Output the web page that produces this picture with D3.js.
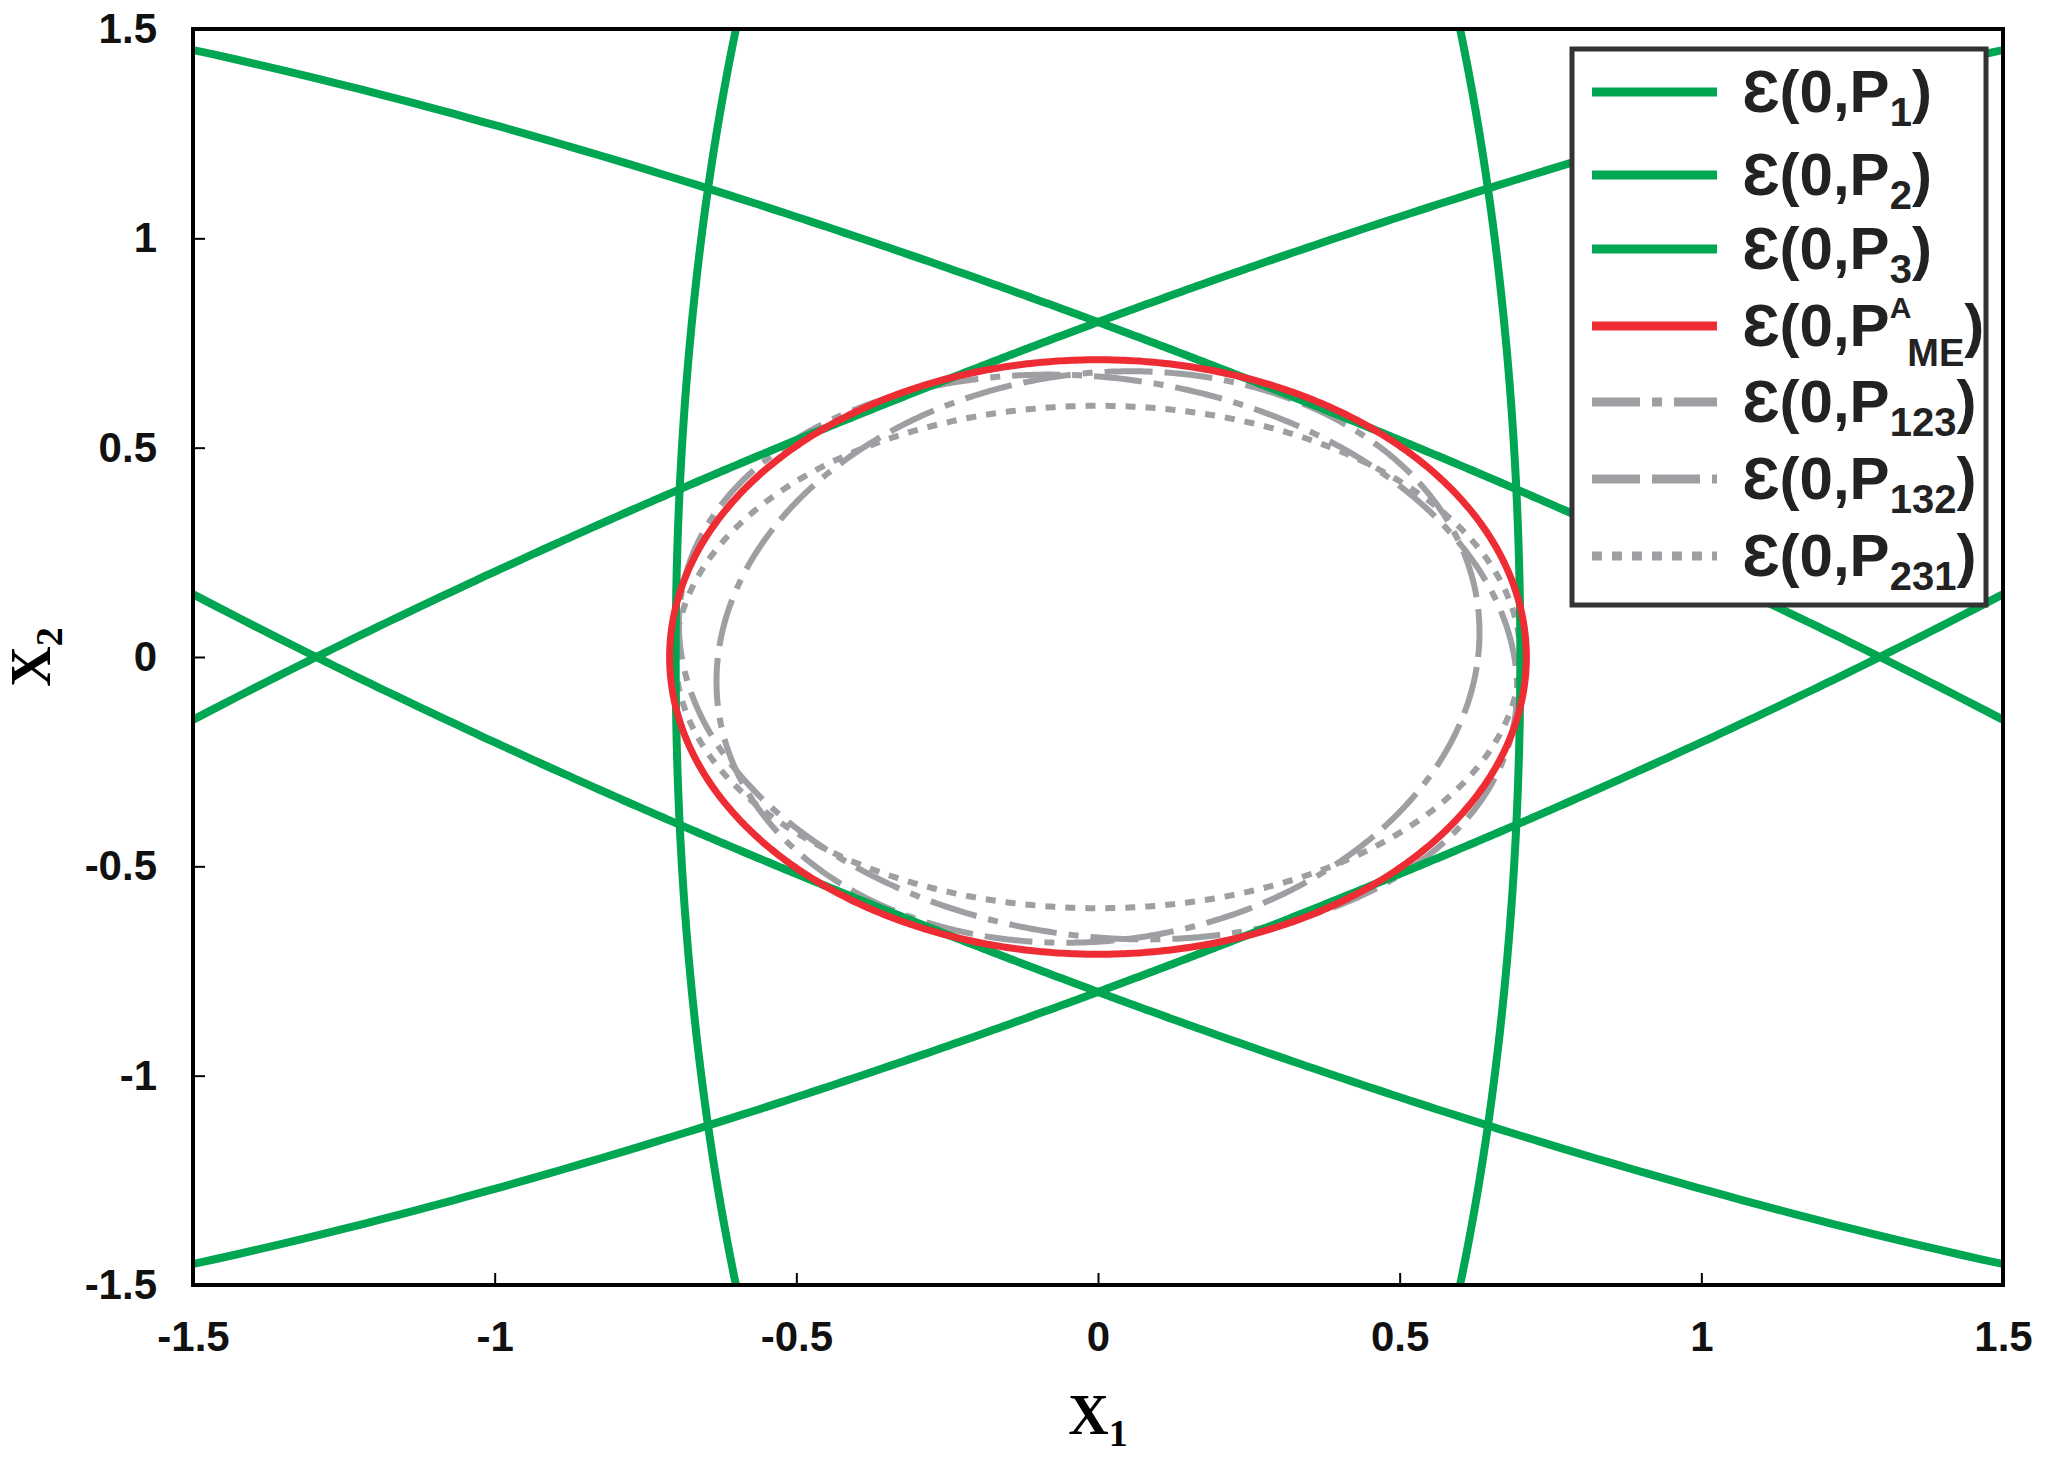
<!DOCTYPE html>
<html><head><meta charset="utf-8">
<script src="https://cdn.jsdelivr.net/npm/d3@7"></script>
<style>body{margin:0;background:#fff}</style>
</head><body>
<svg id="chart" width="2062" height="1462"></svg>
<script>
// ellipse x'Mx = 1, M = [a, b, c] for [[a,b],[b,c]]
const names = ['P1', 'P2', 'P3', 'PME', 'P123', 'P132', 'P231'];
const matrices = [
  [1 / (0.7 * 0.7), 0, 1 / 8.49],
  [0.5955, 0.8333, 1.5625],
  [0.5955, -0.8333, 1.5625],
  [1 / (0.71 * 0.71), 0, 1 / (0.71 * 0.71)],
  [1 / (0.69 * 0.69), 0.25, 1 / (0.67 * 0.67)],
  [1 / (0.63 * 0.63), -0.2, 1 / (0.68 * 0.68)],
  [1 / (0.70 * 0.70), 0, 1 / (0.60 * 0.60)]
];
const colors = ['#00a651', '#00a651', '#00a651', '#ee2c34', '#9d9fa2', '#9d9fa2', '#9d9fa2'];
const dashes = [null, null, null, null, '48,12,10,12', '48,12,48,12,10,12', '10,10'];
const xTicks = [-1.5, -1, -0.5, 0, 0.5, 1, 1.5];
const yTicks = [-1.5, -1, -0.5, 0, 0.5, 1, 1.5];

const svg = d3.select('#chart');
const L = 193, R = 2003, T = 29, B = 1285;
const x = d3.scaleLinear().domain([-1.5, 1.5]).range([L, R]);
const y = d3.scaleLinear().domain([-1.5, 1.5]).range([B, T]);
const fmt = d => String(d);

function ellipsePts(m) {
  const [a, b, c] = m, pts = [];
  for (let i = 0; i <= 720; i++) {
    const t = i / 720 * 2 * Math.PI, u = Math.cos(t), v = Math.sin(t);
    const r = 1 / Math.sqrt(a * u * u + 2 * b * u * v + c * v * v);
    pts.push([r * u, r * v]);
  }
  return pts;
}

svg.append('clipPath').attr('id', 'clip').append('rect')
  .attr('x', L).attr('y', T).attr('width', R - L).attr('height', B - T);

const line = d3.line().x(d => x(d[0])).y(d => y(d[1]));
const g = svg.append('g').attr('clip-path', 'url(#clip)');
// draw order: grays, greens, red on top
[4, 5, 6, 0, 1, 2, 3].forEach(i => {
  g.append('path').attr('d', line(ellipsePts(matrices[i])))
    .attr('fill', 'none').attr('stroke', colors[i])
    .attr('stroke-width', i >= 4 ? 6 : (i === 3 ? 7 : 8))
    .attr('stroke-dasharray', dashes[i]);
});

svg.append('g').attr('transform', `translate(0,${B})`)
  .call(d3.axisBottom(x).tickValues(xTicks).tickSize(-12).tickPadding(36).tickFormat(fmt))
  .call(s => s.select('.domain').remove());
svg.append('g').attr('transform', `translate(${L},0)`)
  .call(d3.axisLeft(y).tickValues(yTicks).tickSize(-12).tickPadding(36).tickFormat(fmt))
  .call(s => s.select('.domain').remove());
svg.selectAll('.tick text').attr('font-family', 'Liberation Sans, Arial').attr('font-weight', 'bold')
  .attr('font-size', 42).attr('fill', '#111');
svg.selectAll('.tick line').attr('stroke', '#000').attr('stroke-width', 2);

svg.append('rect').attr('x', L).attr('y', T).attr('width', R - L).attr('height', B - T)
  .attr('fill', 'none').attr('stroke', '#000').attr('stroke-width', 4);

// axis titles
const xt = svg.append('text').attr('x', (L + R) / 2).attr('y', 1434).attr('text-anchor', 'middle')
  .attr('font-family', 'Liberation Serif, Times New Roman').attr('font-weight', 'bold').attr('font-size', 56);
xt.append('tspan').text('X');
xt.append('tspan').attr('font-size', 38).attr('dy', 12).text('1');
const yt = svg.append('text').attr('transform', `translate(50,${(T + B) / 2}) rotate(-90)`).attr('text-anchor', 'middle')
  .attr('font-family', 'Liberation Serif, Times New Roman').attr('font-weight', 'bold').attr('font-size', 56);
yt.append('tspan').text('X');
yt.append('tspan').attr('font-size', 38).attr('dy', 12).text('2');

// legend
const lg = svg.append('g');
lg.append('rect').attr('x', 1572).attr('y', 49).attr('width', 414).attr('height', 556)
  .attr('fill', '#fff').attr('stroke', '#333').attr('stroke-width', 5);
const subs = ['1', '2', '3', 'ME', '123', '132', '231'];
const rowY = [92, 175, 249, 326, 402, 479, 556];
names.forEach((n, i) => {
  lg.append('line').attr('x1', 1592).attr('x2', 1717).attr('y1', rowY[i]).attr('y2', rowY[i])
    .attr('stroke', colors[i]).attr('stroke-width', 9).attr('stroke-dasharray', dashes[i]);
  const t = lg.append('text').attr('x', 1742).attr('y', rowY[i] + 20)
    .attr('font-family', 'Liberation Sans, Arial').attr('font-weight', 'bold').attr('font-size', 60).attr('fill', '#222');
  t.append('tspan').text('Ɛ(0,P');
  if (i === 3) {
    t.append('tspan').attr('font-size', 30).attr('dy', -28).text('A');
    t.append('tspan').attr('font-size', 38).attr('dy', 48).attr('dx', -4).text('ME');
    t.append('tspan').attr('dy', -20).text(')');
  } else {
    t.append('tspan').attr('font-size', 40).attr('dy', 14).text(subs[i]);
    t.append('tspan').attr('dy', -14).text(')');
  }
});
</script>
</body></html>
